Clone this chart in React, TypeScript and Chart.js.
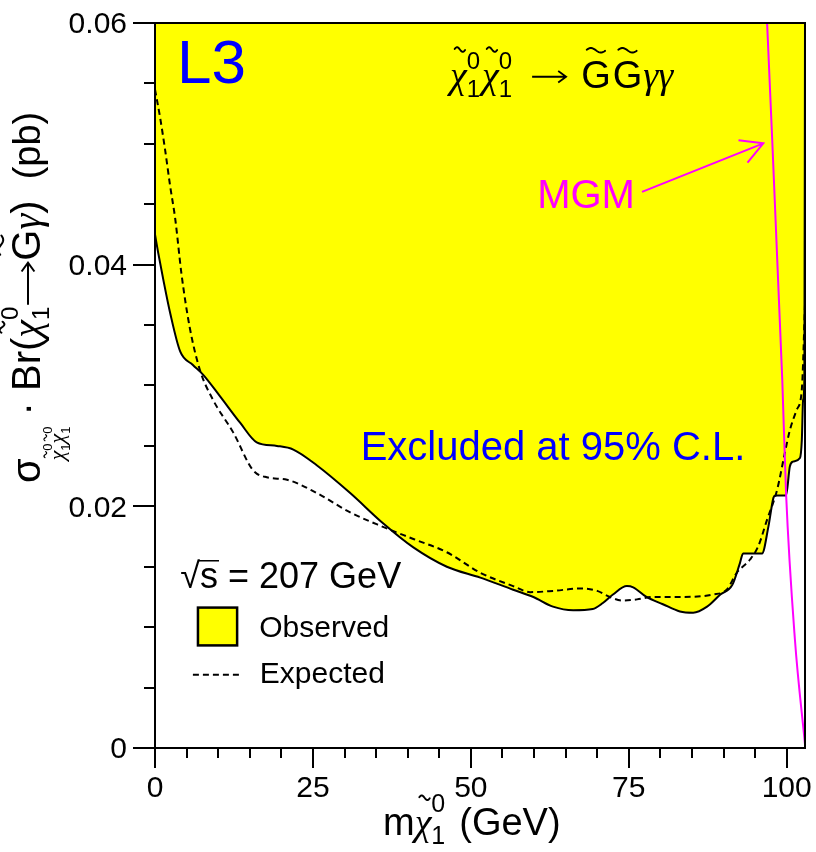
import React, { useEffect, useRef } from 'react';
import { Chart, registerables } from 'chart.js';

Chart.register(...registerables);

// ---- data ----
const obsMass = [0, 0.5, 1.3, 2.4, 4.0, 6.0, 7.6, 10.3, 13.5, 16.1, 19.3, 21.9, 25.6, 30.9, 36.1, 40.9, 46.2, 51.5, 56.7, 59.9, 63.0, 66.2, 69.3, 70.9, 72.5, 74.7, 75.7, 77.8, 80.4, 83.1, 85.2, 87.4, 89.5, 91.4, 92.6, 93.1, 96.1, 97.1, 97.9, 98.2, 99.9, 100.5, 101.0, 102.1, 102.4, 102.6, 102.8, 102.9];
const obsLimit = [0.0425, 0.041, 0.0388, 0.036, 0.0328, 0.0317, 0.0309, 0.0291, 0.0269, 0.0253, 0.025, 0.0247, 0.0234, 0.0211, 0.0186, 0.0166, 0.015, 0.0141, 0.0131, 0.0125, 0.0117, 0.0114, 0.0115, 0.012, 0.0127, 0.0134, 0.0133, 0.0125, 0.0119, 0.0113, 0.0112, 0.0117, 0.0127, 0.0135, 0.0153, 0.0161, 0.0161, 0.0183, 0.0207, 0.0209, 0.0209, 0.0233, 0.0237, 0.024, 0.0255, 0.0288, 0.0305, 0.06];

const expMass = [0, 0.8, 1.6, 2.4, 3.2, 4.2, 5.5, 7.1, 9.2, 12.4, 15.5, 17.7, 20.9, 25.6, 30.9, 36.1, 40.9, 46.2, 51.5, 56.7, 59.4, 63.0, 67.3, 70.0, 72.0, 74.1, 76.3, 78.9, 83.1, 88.3, 90.5, 92.1, 94.2, 95.5, 96.9, 98.5, 99.7, 100.5, 101.6, 102.4, 102.9];
const expLimit = [0.0545, 0.0522, 0.0495, 0.0465, 0.0438, 0.0392, 0.0348, 0.0313, 0.0288, 0.0261, 0.023, 0.0224, 0.0222, 0.0211, 0.0195, 0.0183, 0.0173, 0.0162, 0.0145, 0.0134, 0.0129, 0.013, 0.0132, 0.013, 0.0125, 0.0122, 0.0123, 0.0125, 0.0125, 0.0127, 0.0131, 0.0145, 0.0156, 0.0167, 0.0189, 0.0214, 0.0244, 0.0263, 0.028, 0.0297, 0.0367];

const mgmMass = [96.9, 99.3, 99.9, 101.3, 102.9];
const mgmXsec = [0.06, 0.0305, 0.0211, 0.009, 0.0003];

const xMajorTicks = [0, 25, 50, 75, 100];
const xTickLabels = ['0', '25', '50', '75', '100'];
const xMinorStep = 5;
const yMajorTicks = [0, 0.02, 0.04, 0.06];
const yTickLabels = ['0', '0.02', '0.04', '0.06'];
const yMinorStep = 0.005;
const X_MAX = 102.9;
const Y_MAX = 0.06;

const FONT = '"Liberation Sans", Arial, Helvetica, sans-serif';
const GREEK = '"Liberation Serif", "DejaVu Serif", serif';

type Seg = {
  t?: string;
  s: number;
  dy?: number;
  tilde?: number;
  stack?: boolean;
  arrow?: number;
  kern?: number;
  g?: boolean;
};

function fontOf(sg: Seg) {
  return sg.g ? `italic ${sg.s}px ${GREEK}` : `${sg.s}px ${FONT}`;
}

function drawTilde(ctx: CanvasRenderingContext2D, cx: number, cy: number, w: number, h: number, lw: number) {
  ctx.save();
  ctx.lineWidth = lw;
  ctx.lineCap = 'round';
  ctx.beginPath();
  const n = 20;
  for (let i = 0; i <= n; i++) {
    const t = 0.04 + (0.92 * i) / n;
    const px = cx - w / 2 + w * (i / n);
    const py = cy - h * Math.sin(2 * Math.PI * t);
    if (i === 0) ctx.moveTo(px, py);
    else ctx.lineTo(px, py);
  }
  ctx.stroke();
  ctx.restore();
}

function layoutRich(ctx: CanvasRenderingContext2D, segs: Seg[]) {
  let x = 0;
  let prevStart = 0;
  const items: { sg: Seg; x: number; w: number }[] = [];
  for (const sg of segs) {
    ctx.font = fontOf(sg);
    const w = sg.arrow !== undefined ? sg.arrow : sg.t ? ctx.measureText(sg.t).width : 0;
    const start = sg.stack ? prevStart : x + (sg.kern || 0);
    items.push({ sg, x: start, w });
    const end = start + w;
    x = sg.stack ? Math.max(x, end) : end;
    prevStart = start;
  }
  return { items, width: x };
}

function drawRich(ctx: CanvasRenderingContext2D, x0: number, y0: number, segs: Seg[], color: string, align: 'left' | 'center' | 'right' = 'left') {
  const { items, width } = layoutRich(ctx, segs);
  const off = align === 'left' ? 0 : align === 'center' ? -width / 2 : -width;
  ctx.save();
  ctx.fillStyle = color;
  ctx.strokeStyle = color;
  ctx.textAlign = 'left';
  ctx.textBaseline = 'alphabetic';
  for (const it of items) {
    const sg = it.sg;
    const x = x0 + off + it.x;
    const y = y0 + (sg.dy || 0);
    ctx.font = fontOf(sg);
    if (sg.arrow !== undefined) {
      const ay = y - sg.s * 0.3;
      ctx.lineWidth = Math.max(1.5, sg.s * 0.05);
      ctx.beginPath();
      ctx.moveTo(x + 2, ay);
      ctx.lineTo(x + it.w - 2, ay);
      ctx.moveTo(x + it.w - 2 - sg.s * 0.22, ay - sg.s * 0.16);
      ctx.lineTo(x + it.w - 2, ay);
      ctx.lineTo(x + it.w - 2 - sg.s * 0.22, ay + sg.s * 0.16);
      ctx.stroke();
    } else if (sg.t) {
      ctx.fillText(sg.t, x, y);
    }
    if (sg.tilde) {
      drawTilde(ctx, x + it.w / 2 + (sg.g ? sg.s * 0.04 : 0), y - sg.s * sg.tilde, it.w * 0.62, sg.s * 0.06, Math.max(1.2, sg.s * 0.05));
    }
  }
  ctx.restore();
}

const overlayPlugin = {
  id: 'overlay',
  afterDatasetsDraw(chart: any) {
    const ctx: CanvasRenderingContext2D = chart.ctx;
    const ca = chart.chartArea;
    const xs = chart.scales.x;
    const ys = chart.scales.y;
    const px = (v: number) => xs.getPixelForValue(v);
    const py = (v: number) => ys.getPixelForValue(v);

    ctx.save();
    // frame
    ctx.strokeStyle = '#000';
    ctx.lineWidth = 2;
    ctx.strokeRect(ca.left, ca.top, ca.right - ca.left, ca.bottom - ca.top);

    // ticks
    ctx.beginPath();
    for (let v = 0; v <= X_MAX + 1e-9; v += xMinorStep) {
      const major = xMajorTicks.some((m) => Math.abs(m - v) < 1e-6);
      const x = Math.round(px(v));
      ctx.moveTo(x, ca.bottom);
      ctx.lineTo(x, ca.bottom + (major ? 20 : 10));
    }
    for (let v = 0; v <= Y_MAX + 1e-9; v += yMinorStep) {
      const major = yMajorTicks.some((m) => Math.abs(m - v) < 1e-9);
      const y = Math.round(py(v));
      ctx.moveTo(ca.left, y);
      ctx.lineTo(ca.left - (major ? 22 : 11), y);
    }
    ctx.stroke();

    // tick labels
    ctx.fillStyle = '#000';
    ctx.font = `30px ${FONT}`;
    ctx.textAlign = 'center';
    ctx.textBaseline = 'alphabetic';
    xMajorTicks.forEach((v, i) => ctx.fillText(xTickLabels[i], px(v), ca.bottom + 49));
    ctx.textAlign = 'right';
    ctx.textBaseline = 'middle';
    yMajorTicks.forEach((v, i) => ctx.fillText(yTickLabels[i], ca.left - 28, py(v) + 2));

    // axis titles
    drawRich(ctx, ca.left + 228, ca.bottom + 87, [
      { t: 'm', s: 38 },
      { t: 'χ', s: 38, tilde: 0.98, g: true },
      { t: '0', s: 25, dy: -23 },
      { t: '1', s: 25, dy: 9, stack: true },
      { t: '(GeV)', s: 38, kern: 14 },
    ], '#000');

    ctx.save();
    ctx.translate(ca.left - 115, ca.bottom - 265);
    ctx.rotate(-Math.PI / 2);
    drawRich(ctx, 0, 0, [
      { t: 'σ', s: 40 },
      { t: 'χ', s: 22, dy: 24, tilde: 0.85, kern: -2, g: true },
      { t: '0', s: 13, dy: 12 },
      { t: '1', s: 13, dy: 30, stack: true },
      { t: 'χ', s: 22, dy: 24, tilde: 0.85, g: true },
      { t: '0', s: 13, dy: 12 },
      { t: '1', s: 13, dy: 30, stack: true },
      { t: ' · Br(', s: 40 },
      { t: 'χ', s: 40, tilde: 0.95, g: true },
      { t: '0', s: 24, dy: -22 },
      { t: '1', s: 24, dy: 9, stack: true },
      { arrow: 46, s: 40 },
      { t: 'G', s: 40, tilde: 0.98 },
      { t: 'γ', s: 40, g: true },
      { t: ')', s: 40 },
      { t: '  (pb)', s: 38 },
    ], '#000');
    ctx.restore();

    // in-plot annotations
    ctx.fillStyle = '#0000ff';
    ctx.textAlign = 'left';
    ctx.textBaseline = 'alphabetic';
    ctx.font = `62px ${FONT}`;
    ctx.fillText('L3', px(3.5), py(0.05505));

    drawRich(ctx, px(46.7), py(0.05466), [
      { t: 'χ', s: 38, tilde: 1.0, g: true },
      { t: '0', s: 24, dy: -19 },
      { t: '1', s: 24, dy: 9, stack: true },
      { t: 'χ', s: 38, tilde: 1.0, g: true, kern: 2 },
      { t: '0', s: 24, dy: -19 },
      { t: '1', s: 24, dy: 9, stack: true },
      { arrow: 38, s: 36, kern: 18 },
      { t: 'G', s: 38, tilde: 0.98, kern: 13 },
      { t: 'G', s: 38, tilde: 0.98, kern: 2 },
      { t: 'γγ', s: 38, g: true, kern: 1 },
    ], '#000');

    ctx.fillStyle = '#ff00ff';
    ctx.font = `40px ${FONT}`;
    ctx.textAlign = 'left';
    ctx.fillText('MGM', px(60.5), py(0.04471));

    // arrow from MGM label to the MGM curve
    const ax0 = px(77.1), ay0 = py(0.04603), ax1 = px(96.3), ay1 = py(0.05004);
    ctx.strokeStyle = '#ff00ff';
    ctx.lineWidth = 2;
    ctx.beginPath();
    ctx.moveTo(ax0, ay0);
    ctx.lineTo(ax1, ay1);
    const ang = Math.atan2(ay1 - ay0, ax1 - ax0);
    const hl = 25, ha = (29 * Math.PI) / 180;
    ctx.moveTo(ax1 - hl * Math.cos(ang - ha), ay1 - hl * Math.sin(ang - ha));
    ctx.lineTo(ax1, ay1);
    ctx.lineTo(ax1 - hl * Math.cos(ang + ha), ay1 - hl * Math.sin(ang + ha));
    ctx.stroke();

    ctx.fillStyle = '#0000ff';
    ctx.font = `40px ${FONT}`;
    ctx.textAlign = 'center';
    ctx.fillText('Excluded at 95% C.L.', px(63.0), py(0.02386));

    // legend
    ctx.fillStyle = '#000';
    ctx.textAlign = 'left';
    ctx.font = `36px ${FONT}`;
    const sx = px(4.0), sy = py(0.01326);
    ctx.fillText('√', sx, sy);
    const rw = ctx.measureText('√').width;
    const sw = ctx.measureText('s').width;
    ctx.fillText('s', sx + rw, sy);
    ctx.lineWidth = 1.5;
    ctx.strokeStyle = '#000';
    ctx.beginPath();
    ctx.moveTo(sx + rw - 2, sy - 27);
    ctx.lineTo(sx + rw + sw + 1, sy - 27);
    ctx.stroke();
    ctx.fillText(' = 207 GeV', sx + rw + sw, sy);

    const bx0 = px(6.8), bx1 = px(13.0), by0 = py(0.01162), by1 = py(0.00849);
    ctx.fillStyle = '#ffff00';
    ctx.fillRect(bx0, by0, bx1 - bx0, by1 - by0);
    ctx.lineWidth = 2.5;
    ctx.strokeStyle = '#000';
    ctx.strokeRect(bx0, by0, bx1 - bx0, by1 - by0);
    ctx.fillStyle = '#000';
    ctx.font = `30px ${FONT}`;
    ctx.fillText('Observed', px(16.5), py(0.00921));

    ctx.setLineDash([6, 4]);
    ctx.lineWidth = 2;
    ctx.beginPath();
    ctx.moveTo(px(6.0), py(0.00607));
    ctx.lineTo(px(13.9), py(0.00607));
    ctx.stroke();
    ctx.setLineDash([]);
    ctx.fillText('Expected', px(16.6), py(0.0054));

    ctx.restore();
  },
};

export default function App() {
  const ref = useRef<HTMLCanvasElement | null>(null);
  useEffect(() => {
    if (!ref.current) return;
    const chart = new Chart(ref.current, {
      type: 'scatter',
      data: {
        datasets: [
          {
            label: 'Observed',
            data: obsMass.map((m, i) => ({ x: m, y: obsLimit[i] })),
            showLine: true,
            borderColor: '#000',
            borderWidth: 2,
            backgroundColor: '#ffff00',
            fill: 'end',
            pointRadius: 0,
            cubicInterpolationMode: 'monotone',
            order: 3,
          },
          {
            label: 'Expected',
            data: expMass.map((m, i) => ({ x: m, y: expLimit[i] })),
            showLine: true,
            borderColor: '#000',
            borderWidth: 2,
            borderDash: [6, 4],
            fill: false,
            pointRadius: 0,
            cubicInterpolationMode: 'monotone',
            order: 2,
          },
          {
            label: 'MGM',
            data: mgmMass.map((m, i) => ({ x: m, y: mgmXsec[i] })),
            showLine: true,
            borderColor: '#ff00ff',
            borderWidth: 2,
            fill: false,
            pointRadius: 0,
            cubicInterpolationMode: 'monotone',
            order: 1,
          },
        ],
      },
      options: {
        animation: false,
        responsive: true,
        maintainAspectRatio: false,
        devicePixelRatio: 1,
        layout: { padding: { left: 155, right: 11, top: 23, bottom: 104 } },
        scales: {
          x: { type: 'linear', min: 0, max: X_MAX, display: false },
          y: { type: 'linear', min: 0, max: Y_MAX, display: false },
        },
        plugins: {
          legend: { display: false },
          tooltip: { enabled: false },
          filler: { drawTime: 'beforeDatasetsDraw' },
        } as any,
        events: [],
      },
      plugins: [overlayPlugin],
    });
    return () => chart.destroy();
  }, []);
  return (
    <div style={{ position: 'fixed', left: 0, top: 0, width: 816, height: 852, background: '#fff' }}>
      <canvas ref={ref} />
    </div>
  );
}
